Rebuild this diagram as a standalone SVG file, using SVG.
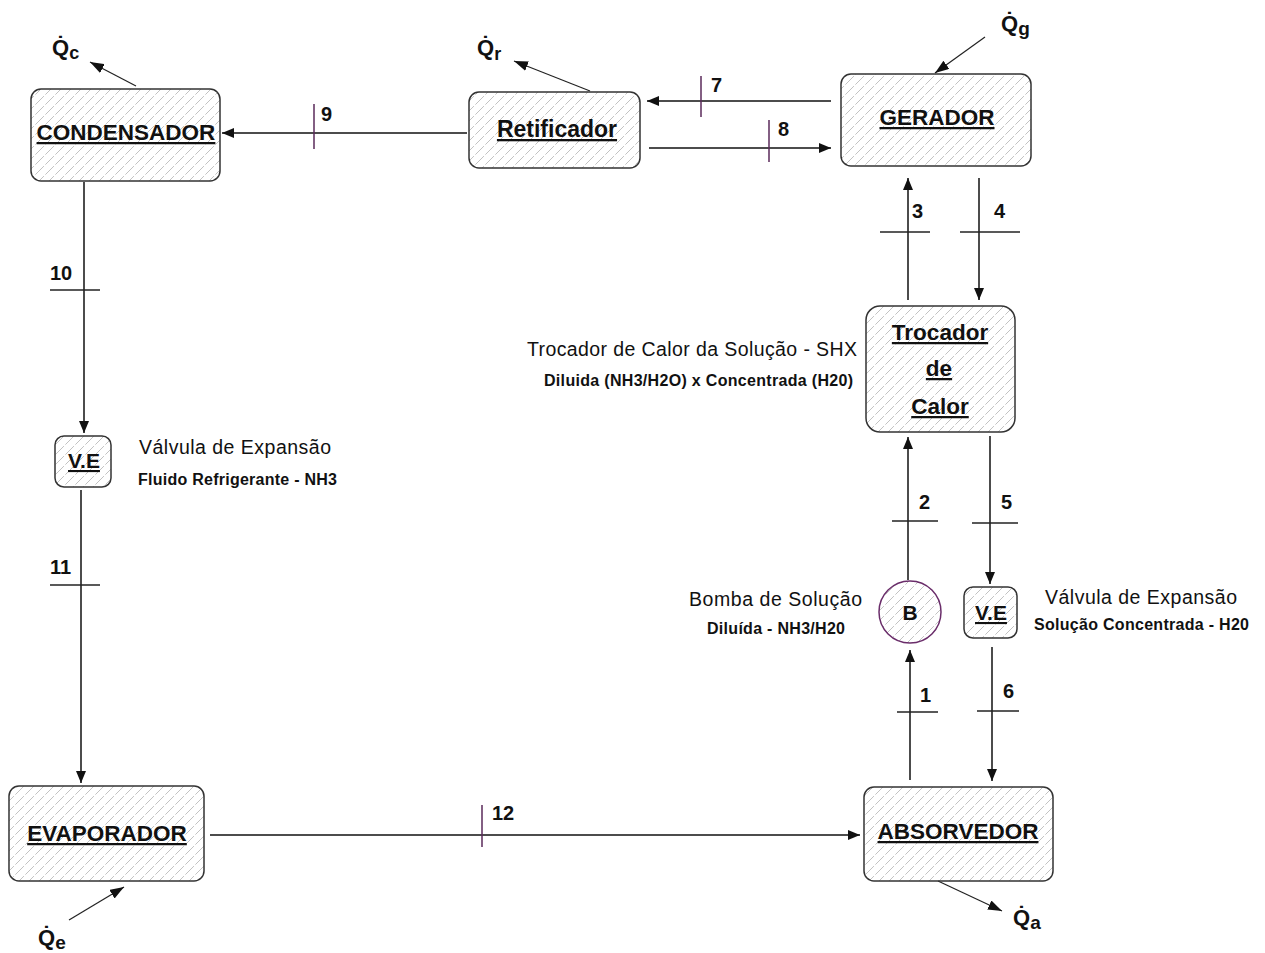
<svg xmlns="http://www.w3.org/2000/svg" width="1265" height="953" viewBox="0 0 1265 953">
<defs>
<pattern id="hatch" patternUnits="userSpaceOnUse" width="10" height="10">
<path d="M-1,11 L11,-1" stroke="#c2c2c2" stroke-width="1" stroke-dasharray="7,2"/>
</pattern>
<marker id="arr" markerUnits="userSpaceOnUse" markerWidth="12" markerHeight="10" refX="12" refY="5" orient="auto">
<path d="M0,0 L12,5 L0,10 z" fill="#111"/>
</marker>
<marker id="harr" markerUnits="userSpaceOnUse" markerWidth="14" markerHeight="10" refX="14" refY="5" orient="auto">
<path d="M0,0 L14,5 L0,10 z" fill="#111"/>
</marker>
<style>
.box{fill:url(#hatch);stroke:#333;stroke-width:1.5}
.pump{fill:url(#hatch);stroke:#6a2d6a;stroke-width:1.5}
.bt{font-family:"Liberation Sans",Arial,sans-serif;font-weight:bold;fill:#111;text-anchor:middle;text-decoration:underline}
.line{stroke:#111;stroke-width:1.5;fill:none;marker-end:url(#arr)}
.heat{stroke:#222;stroke-width:1.2;fill:none;marker-end:url(#harr)}
.tickv{stroke:#5a2a5a;stroke-width:1.5}
.tickh{stroke:#222;stroke-width:1.5}
.num{font-family:"Liberation Sans",Arial,sans-serif;font-weight:bold;font-size:20px;fill:#111}
.lab{font-family:"Liberation Sans",Arial,sans-serif;font-size:19.5px;fill:#111}
.sub{font-family:"Liberation Sans",Arial,sans-serif;font-size:16px;font-weight:bold;fill:#111}
.q{font-family:"Liberation Sans","DejaVu Sans",Arial,sans-serif;font-weight:bold;font-size:22px;fill:#111}
</style>
</defs>
<rect width="1265" height="953" fill="#fff"/>

<g id="connectors">
<path class="line" d="M831,101 H647"/>
<path class="line" d="M649,148 H831"/>
<path class="line" d="M467,133 H222"/>
<path class="line" d="M84,182 V433"/>
<path class="line" d="M81,490 V783"/>
<path class="line" d="M210,835 H860"/>
<path class="line" d="M910,780 V650"/>
<path class="line" d="M908,580 V437"/>
<path class="line" d="M908,300 V178"/>
<path class="line" d="M979,178 V300"/>
<path class="line" d="M990,436 V584"/>
<path class="line" d="M992,647 V781"/>
<line class="tickv" x1="701" y1="76" x2="701" y2="117"/>
<line class="tickv" x1="769" y1="120" x2="769" y2="162"/>
<line class="tickv" x1="314" y1="104" x2="314" y2="149"/>
<line class="tickv" x1="482" y1="805" x2="482" y2="847"/>
<line class="tickh" x1="50" y1="290" x2="100" y2="290"/>
<line class="tickh" x1="50" y1="585" x2="100" y2="585"/>
<line class="tickh" x1="897" y1="712" x2="938" y2="712"/>
<line class="tickh" x1="892" y1="521" x2="938" y2="521"/>
<line class="tickh" x1="880" y1="232" x2="930" y2="232"/>
<line class="tickh" x1="960" y1="232" x2="1020" y2="232"/>
<line class="tickh" x1="972" y1="523" x2="1018" y2="523"/>
<line class="tickh" x1="977" y1="711" x2="1019" y2="711"/>
<text class="num" x="711" y="92">7</text>
<text class="num" x="778" y="136">8</text>
<text class="num" x="321" y="121">9</text>
<text class="num" x="492" y="820">12</text>
<text class="num" x="50" y="280">10</text>
<text class="num" x="50" y="574">11</text>
<text class="num" x="912" y="218">3</text>
<text class="num" x="994" y="218">4</text>
<text class="num" x="919" y="509">2</text>
<text class="num" x="1001" y="509">5</text>
<text class="num" x="920" y="702">1</text>
<text class="num" x="1003" y="698">6</text>
<path class="heat" d="M136,86 L90,62"/>
<path class="heat" d="M590,91 L514,61"/>
<path class="heat" d="M985,37 L935,73"/>
<path class="heat" d="M69,920 L124,887"/>
<path class="heat" d="M938,881 L1002,911"/>
</g>

<g id="condensador">
<rect class="box" x="31" y="89" width="189" height="92" rx="10"/>
<text class="bt" x="126" y="140" font-size="22.5">CONDENSADOR</text>
<text class="q" x="52" y="55">Q&#x307;<tspan font-size="18" dy="4">c</tspan></text>
</g>

<g id="retificador">
<rect class="box" x="469" y="92" width="171" height="76" rx="10"/>
<text class="bt" x="557" y="137" font-size="23">Retificador</text>
<text class="q" x="477" y="55">Q&#x307;<tspan font-size="18" dy="5">r</tspan></text>
</g>

<g id="gerador">
<rect class="box" x="841" y="74" width="190" height="92" rx="10"/>
<text class="bt" x="937" y="125" font-size="22.5">GERADOR</text>
<text class="q" x="1001" y="31">Q&#x307;<tspan font-size="19" dy="4">g</tspan></text>
</g>

<g id="trocador">
<rect class="box" x="866" y="306" width="149" height="126" rx="14"/>
<text class="bt" x="940" y="340" font-size="22.5">Trocador </text>
<text class="bt" x="939" y="376" font-size="22.5">de</text>
<text class="bt" x="940" y="414" font-size="22.5">Calor</text>
<text class="lab" x="857" y="356" text-anchor="end" textLength="330">Trocador de Calor da Solução - SHX</text>
<text class="sub" x="853" y="386" text-anchor="end" textLength="309">Diluida (NH3/H2O) x Concentrada (H20)</text>
</g>

<g id="ve1">
<rect class="box" x="55" y="436" width="56" height="51" rx="9"/>
<text class="bt" x="84" y="468" font-size="21">V.E</text>
<text class="lab" x="139" y="454" textLength="192">Válvula de Expansão</text>
<text class="sub" x="138" y="485" textLength="199">Fluido Refrigerante - NH3</text>
</g>

<g id="bomba">
<circle class="pump" cx="910" cy="612" r="31"/>
<text x="910" y="620" font-family="Liberation Sans, Arial, sans-serif" font-weight="bold" font-size="21" text-anchor="middle" fill="#111">B</text>
<text class="lab" x="689" y="606" textLength="173">Bomba de Solução</text>
<text class="sub" x="707" y="634" textLength="138">Diluída - NH3/H20</text>
</g>

<g id="ve2">
<rect class="box" x="964" y="587" width="53" height="51" rx="9"/>
<text class="bt" x="991" y="620" font-size="21">V.E</text>
<text class="lab" x="1045" y="604" textLength="192">Válvula de Expansão</text>
<text class="sub" x="1034" y="630" textLength="215">Solução Concentrada - H20</text>
</g>

<g id="evaporador">
<rect class="box" x="9" y="786" width="195" height="95" rx="10"/>
<text class="bt" x="107" y="841" font-size="22.5">EVAPORADOR</text>
<text class="q" x="38" y="945">Q&#x307;<tspan font-size="19" dy="4">e</tspan></text>
</g>

<g id="absorvedor">
<rect class="box" x="864" y="787" width="189" height="94" rx="10"/>
<text class="bt" x="958" y="839" font-size="22.5">ABSORVEDOR</text>
<text class="q" x="1013" y="925">Q&#x307;<tspan font-size="19" dy="4">a</tspan></text>
</g>
</svg>
